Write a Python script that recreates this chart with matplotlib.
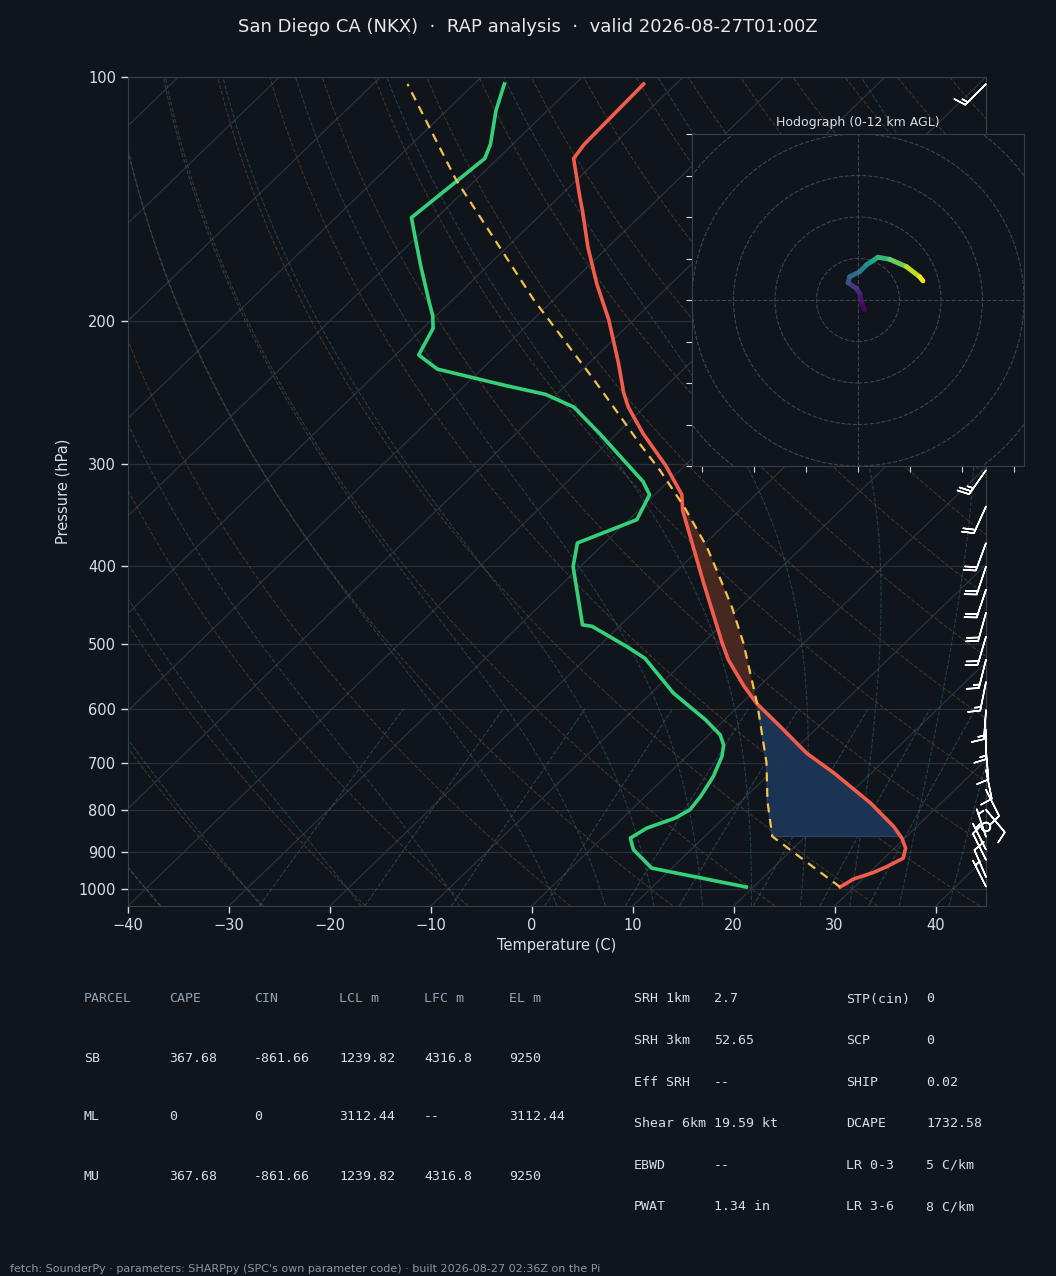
import numpy as np
import matplotlib
matplotlib.use("Agg")
import matplotlib.pyplot as plt
from matplotlib import transforms
from matplotlib.collections import LineCollection
from matplotlib.patches import Circle
from matplotlib.ticker import FixedLocator, NullLocator, ScalarFormatter

BG = "#10151c"
GRID = "#262f3a"
SPINE = "#34404d"
TXT = "#d9dee4"
HEAD = "#8fa3b8"

# ---- sounding ----
temp_p = [995, 973, 955, 940, 917, 891, 866, 838, 784, 720, 681, 631, 591, 563, 522, 498,
          420, 386, 342, 327, 301, 275, 255, 245, 225, 199, 180, 162, 146, 140, 126, 121, 102]
temp_t = [28.6, 29.1, 30.4, 31.1, 31.9, 31.1, 29.7, 27.7, 23.0, 16.3, 11.6, 6.2, 1.5, -1.5, -5.8, -8.1,
          -16.1, -20.0, -25.6, -27.3, -31.9, -37.4, -41.6, -43.5, -47.1, -52.5, -57.3, -62.0, -66.3, -68.1,
          -72.5, -72.9, -73.2]

dewp_p = [995, 943, 895, 866, 842, 818, 799, 770, 727, 687, 665, 646, 619, 574, 520, 503, 475, 473,
          401, 375, 351, 327, 315, 275, 255, 246, 240, 229, 220, 204, 197, 188, 171, 154, 149, 126,
          121, 110, 102]
dewp_td = [19.3, 8.0, 4.3, 2.8, 3.4, 5.2, 5.8, 5.5, 4.7, 3.5, 2.5, 1.1, -1.9, -7.8, -14.2, -17.2, -22.7,
           -23.8, -30.7, -32.7, -29.2, -30.5, -32.5, -41.7, -47.0, -51.1, -55.9, -64.4, -67.7, -69.0,
           -70.3, -72.4, -76.6, -81.1, -82.5, -81.3, -82.2, -85.1, -87.0]

parcel_p = [995, 862, 780, 700, 593, 498, 449, 419, 379, 338, 305, 283, 262, 236, 188, 134, 102]
parcel_t = [28.6, 16.7, 12.6, 8.6, 1.7, -6.0, -10.9, -14.4, -19.5, -25.9, -32.0, -36.7, -41.4, -47.8,
            -62.0, -81.9, -96.6]

lcl_p = 862
lfc_p = 596
el_p = 335

# wind barbs (kt)
barb_p = [994, 967, 921, 895, 863, 839, 799, 755, 714, 675, 637, 602, 556, 522, 489, 457, 428, 401,
          375, 338, 305, 275, 250, 225, 200, 175, 150, 125, 102]
barb_u = [3, 3, 4, 3, 1, 0.5, -5, -4, -2, -1, 0, 1, 3, 4, 5, 5, 6, 6, 7, 9, 14, 20, 25, 29, 31, 28, 22, 15, 11]
barb_v = [-6, -7, -8, -6, -3, -0.5, 6, 8, 10, 12, 13, 14, 15, 16, 17, 18, 18, 18, 19, 20, 20, 17, 14, 11,
          9, 8, 10, 12, 11]

# hodograph 0-12 km
hodo_u = [3.2, 1.6, 0.8, -0.8, -4.8, -4.0, 0.8, 4.0, 6.5, 9.6, 15.3, 23.3, 29.7, 31.3]
hodo_v = [-4.8, -0.8, 3.2, 5.6, 8.3, 11.2, 13.6, 16.9, 18.5, 20.6, 19.6, 16.1, 11.2, 9.2]
hodo_h = [0.0, 0.5, 1.0, 1.5, 2.5, 3.5, 4.5, 5.5, 6.5, 7.5, 8.5, 10.0, 11.5, 12.0]

# parameter tables
parcel_names = ["SB", "ML", "MU"]
cape_vals = ["367.68", "0", "367.68"]
cin_vals = ["-861.66", "0", "-861.66"]
lcl_vals = ["1239.82", "3112.44", "1239.82"]
lfc_vals = ["4316.8", "--", "4316.8"]
el_vals = ["9250", "3112.44", "9250"]

left_names = ["SRH 1km", "SRH 3km", "Eff SRH", "Shear 6km", "EBWD", "PWAT"]
left_vals = ["2.7", "52.65", "--", "19.59 kt", "--", "1.34 in"]
right_names = ["STP(cin)", "SCP", "SHIP", "DCAPE", "LR 0-3", "LR 3-6"]
right_vals = ["0", "0", "0.02", "1732.58", "5 C/km", "8 C/km"]

title = "San Diego CA (NKX)  \u00b7  RAP analysis  \u00b7  valid 2026-08-27T01:00Z"
footer = ("fetch: SounderPy \u00b7 parameters: SHARPpy (SPC's own parameter code) \u00b7 "
          "built 2026-08-27 02:36Z on the Pi")


def dry_adiabat(t0, p):
    return (t0 + 273.15) * (p / 1000.0) ** 0.2857 - 273.15


def moist_dtdp(p, t):
    es = 6.112 * np.exp(17.67 * (t - 273.15) / (t - 29.65))
    rs = 0.621957 * es / (p - es)
    frac = (287.04749 * t + 2.50084e6 * rs) / (1004.666 + 2.50084e6 ** 2 * rs * 0.621957 / (287.04749 * t * t))
    return frac / p


def moist_adiabat(t0, plev):
    t = t0 + 273.15
    out = [t.copy()]
    for p0, p1 in zip(plev[:-1], plev[1:]):
        h = p1 - p0
        k1 = moist_dtdp(p0, t)
        k2 = moist_dtdp(p0 + h / 2, t + h / 2 * k1)
        k3 = moist_dtdp(p0 + h / 2, t + h / 2 * k2)
        k4 = moist_dtdp(p1, t + h * k3)
        t = t + h / 6 * (k1 + 2 * k2 + 2 * k3 + k4)
        out.append(t.copy())
    return np.array(out) - 273.15


def segment(p, t, p_hi, p_lo):
    p = np.asarray(p, float)
    t = np.asarray(t, float)
    lp = np.log(p[::-1])
    ends = np.interp(np.log([p_hi, p_lo]), lp, t[::-1])
    keep = (p < p_hi) & (p > p_lo)
    return (np.concatenate([[p_hi], p[keep], [p_lo]]),
            np.concatenate([[ends[0]], t[keep], [ends[1]]]))


fig = plt.figure(figsize=(10.56, 12.76), dpi=100, facecolor=BG)
ax = fig.add_axes([128 / 1056, 370 / 1276, 858 / 1056, 829 / 1276], facecolor=BG)
ax.set_yscale("log")
ax.set_xlim(-40, 45)
ax.set_ylim(1050, 100)
skew = ax.transScale + ax.transLimits + transforms.Affine2D().skew_deg(45, 0) + ax.transAxes

# background lines
plev = np.linspace(1050, 100, 120)
t_iso = np.arange(-120, 50, 10)
ax.plot(np.vstack([t_iso, t_iso]), [1050, 100], color="#29323d", lw=0.9, transform=skew, zorder=1)

t_dry = np.arange(-40, 246, 10)
ax.plot(dry_adiabat(t_dry[None, :], plev[:, None]), plev, color="#7a5c3c", lw=0.8, ls="--",
        alpha=0.45, transform=skew, zorder=1)

t_moist = np.concatenate([np.arange(-40, 0, 10), np.arange(0, 46, 5)]).astype(float)
p_up = np.linspace(1000, 100, 181)
p_dn = np.linspace(1000, 1050, 11)
tm = np.concatenate([moist_adiabat(t_moist, p_dn)[::-1], moist_adiabat(t_moist, p_up)[1:]])
pm = np.concatenate([p_dn[::-1], p_up[1:]])
ax.plot(tm, pm, color="#3b6478", lw=0.8, ls="--", alpha=0.5, transform=skew, zorder=1)

w_mix = np.array([0.0004, 0.001, 0.002, 0.004, 0.007, 0.01, 0.016, 0.024, 0.032])
p_mix = np.linspace(1050, 600, 40)
e_mix = p_mix[:, None] * w_mix[None, :] / (0.621957 + w_mix[None, :])
lg = np.log(e_mix / 6.112)
ax.plot(243.5 * lg / (17.67 - lg), p_mix, color="#3b6478", lw=0.8, ls="--", alpha=0.55,
        transform=skew, zorder=1)

# CIN / CAPE shading
ep, et = segment(temp_p, temp_t, lcl_p, lfc_p)
pp, pt = segment(parcel_p, parcel_t, lcl_p, lfc_p)
ax.fill(np.concatenate([et, pt[::-1]]), np.concatenate([ep, pp[::-1]]), facecolor="#1d3657",
        edgecolor="#24456b", lw=1, alpha=0.95, transform=skew, zorder=2)
ep, et = segment(temp_p, temp_t, lfc_p, el_p)
pp, pt = segment(parcel_p, parcel_t, lfc_p, el_p)
ax.fill(np.concatenate([et, pt[::-1]]), np.concatenate([ep, pp[::-1]]), facecolor="#4a2a22",
        edgecolor="none", alpha=0.95, transform=skew, zorder=2)

# profiles
ax.plot(temp_t, temp_p, color="#f25c4c", lw=2.6, transform=skew, zorder=4)
ax.plot(dewp_td, dewp_p, color="#36d07a", lw=2.6, transform=skew, zorder=4)
ax.plot(parcel_t, parcel_p, color="#f2c14e", lw=1.6, ls=(0, (4, 3)), transform=skew, zorder=4)

# barbs on the right edge
bt = transforms.blended_transform_factory(ax.transAxes, ax.transData)
ax.barbs(np.ones(len(barb_p)), barb_p, barb_u, barb_v, transform=bt, clip_on=False,
         length=6.5, color="white", linewidth=1.1, zorder=6)

ax.set_xlim(-40, 45)
ax.set_ylim(1050, 100)
ax.yaxis.set_major_locator(FixedLocator([100, 200, 300, 400, 500, 600, 700, 800, 900, 1000]))
ax.yaxis.set_major_formatter(ScalarFormatter())
ax.yaxis.set_minor_locator(NullLocator())
ax.xaxis.set_major_locator(FixedLocator(np.arange(-40, 41, 10)))
ax.yaxis.grid(True, color=GRID, lw=0.9)
ax.set_axisbelow(True)
ax.tick_params(colors=TXT, labelsize=10.5, length=5, width=1)
for s in ax.spines.values():
    s.set_color(SPINE)
ax.set_xlabel("Temperature (C)", color=TXT, fontsize=10.5, labelpad=4)
ax.set_ylabel("Pressure (hPa)", color=TXT, fontsize=10.5, labelpad=6)

# hodograph inset
hx = fig.add_axes([692 / 1056, 810 / 1276, 332 / 1056, 332 / 1276], facecolor=BG)
hx.set_xlim(-80, 80)
hx.set_ylim(-80, 80)
for r in range(20, 121, 20):
    hx.add_patch(Circle((0, 0), r, fill=False, ec="#3a4654", lw=0.8, ls="--"))
hx.axhline(0, color="#3a4654", lw=0.8, ls="--")
hx.axvline(0, color="#3a4654", lw=0.8, ls="--")
pts = np.column_stack([hodo_u, hodo_v]).reshape(-1, 1, 2)
segs = np.concatenate([pts[:-1], pts[1:]], axis=1)
lc = LineCollection(segs, cmap="viridis", norm=plt.Normalize(0, 12), lw=3.5, capstyle="round")
lc.set_array(np.array(hodo_h[:-1]) + np.diff(hodo_h) / 2)
hx.add_collection(lc)
hx.xaxis.set_major_locator(FixedLocator(np.arange(-75, 76, 25)))
hx.yaxis.set_major_locator(FixedLocator(np.arange(-80, 81, 20)))
hx.tick_params(colors=TXT, labelleft=False, labelbottom=False, length=4)
for s in hx.spines.values():
    s.set_color(SPINE)
hx.set_title("Hodograph (0-12 km AGL)", color=TXT, fontsize=9, pad=6)

fig.text(0.5, 1 - 27 / 1276, title, ha="center", va="center", fontsize=13, color="#e6e9ed")

# parcel table
mono = "DejaVu Sans Mono"
cols = [84, 169, 254, 339, 424, 509]
heads = ["PARCEL", "CAPE", "CIN", "LCL m", "LFC m", "EL m"]
for x, h in zip(cols, heads):
    fig.text(x / 1056, 1 - 999 / 1276, h, family=mono, fontsize=9.5, color=HEAD, va="center")
for i in range(len(parcel_names)):
    y = 1 - (1058 + 59 * i) / 1276
    row = [parcel_names[i], cape_vals[i], cin_vals[i], lcl_vals[i], lfc_vals[i], el_vals[i]]
    for x, v in zip(cols, row):
        fig.text(x / 1056, y, v, family=mono, fontsize=9.5, color=TXT, va="center")

# index table
for i in range(len(left_names)):
    y = 1 - (999 + 41.6 * i) / 1276
    fig.text(634 / 1056, y, left_names[i], family=mono, fontsize=9.5, color=TXT, va="center")
    fig.text(714 / 1056, y, left_vals[i], family=mono, fontsize=9.5, color=TXT, va="center")
    fig.text(846 / 1056, y, right_names[i], family=mono, fontsize=9.5, color=TXT, va="center")
    fig.text(926 / 1056, y, right_vals[i], family=mono, fontsize=9.5, color=TXT, va="center")

fig.text(10 / 1056, 1 - 1269 / 1276, footer, fontsize=8, color="#8a96a3", va="center")

fig.savefig("out.png", dpi=100, facecolor=BG)
